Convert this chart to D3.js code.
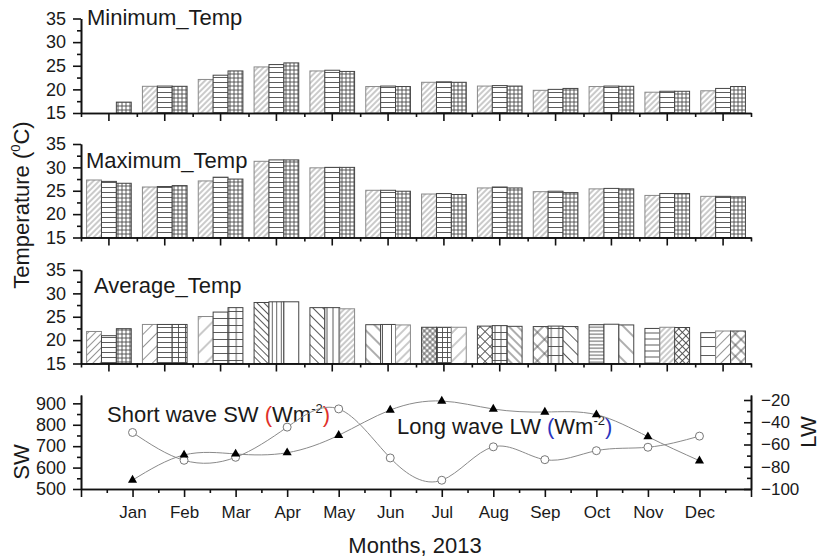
<!DOCTYPE html>
<html>
<head>
<meta charset="utf-8">
<script src="https://cdn.jsdelivr.net/npm/d3@7"></script>
<style>
  body { margin: 0; background: #fff; }
  svg text { font-family: "Liberation Sans", Arial, sans-serif; fill: #1a1a1a; }
</style>
</head>
<body>
<script>
// ---- data ----
var months = ["Jan", "Feb", "Mar", "Apr", "May", "Jun", "Jul", "Aug", "Sep", "Oct", "Nov", "Dec"];

var minTempA = [null, 20.65, 22.1, 24.75, 23.9, 20.6, 21.5, 20.7, 19.8, 20.6, 19.4, 19.7];
var minTempB = [null, 20.7, 23.0, 25.25, 24.05, 20.7, 21.6, 20.8, 20.0, 20.7, 19.6, 20.2];
var minTempC = [17.3, 20.65, 23.9, 25.6, 23.8, 20.6, 21.5, 20.7, 20.2, 20.65, 19.6, 20.6];

var maxTempA = [27.3, 25.8, 27.1, 31.3, 29.9, 25.1, 24.3, 25.6, 24.8, 25.4, 24.0, 23.8];
var maxTempB = [27.0, 25.9, 27.9, 31.6, 30.0, 25.1, 24.4, 25.8, 24.9, 25.5, 24.4, 23.8];
var maxTempC = [26.6, 26.1, 27.5, 31.6, 30.0, 24.9, 24.2, 25.6, 24.6, 25.4, 24.4, 23.7];

var avgTempA = [21.85, 23.35, 25.05, 28.05, 26.95, 23.3, 22.75, 23.0, 22.9, 23.3, 22.5, 21.6];
var avgTempB = [20.95, 23.35, 26.0, 28.2, 26.95, 23.35, 22.75, 23.1, 23.0, 23.4, 22.75, 21.95];
var avgTempC = [22.45, 23.35, 26.95, 28.2, 26.7, 23.25, 22.75, 22.95, 22.9, 23.25, 22.7, 21.95];

var panelTitles = ["Minimum_Temp", "Maximum_Temp", "Average_Temp"];
var tempTicks = [15, 20, 25, 30, 35];
var tempMinorTicks = [17.5, 22.5, 27.5, 32.5];

var swValues = [764, 634, 648, 789, 874, 645, 541, 697, 637, 679, 695, 747];
var lwValues = [-92, -69.4, -68.5, -67.4, -51.7, -29, -20.9, -28.1, -30.8, -33.2, -53, -74.6];
var swTicks = [500, 600, 700, 800, 900];
var swMinorTicks = [550, 650, 750, 850];
var lwTicks = [-100, -80, -60, -40, -20];
var lwMinorTicks = [-90, -70, -50, -30];

// ---- hatch styles (per bar) ----
var hatchMinMax = [["fwd", 4], ["hor", 5], ["grid", 4, 4]];
var hatchAvg = [
    [["fwd", 5], ["hor", 5], ["grid", 4, 4]],
    [["fwd", 9], ["hor", 5], ["grid", 5, 7]],
    [["fwd", 12], ["hor", 7], ["grid", 7, 7.5]],
    [["back", 5], ["vert", 4.5], ["none"]],
    [["back", 7], ["vert", 6], ["fwd", 4]],
    [["back", 10], ["vert", 9], ["fwd", 6]],
    [["cross", 4], ["grid", 5, 5], ["fwd", 10]],
    [["cross", 7], ["grid", 7, 6], ["back", 6]],
    [["cross", 10], ["grid", 9, 7.5], ["back", 9]],
    [["hor", 3.5], ["none"], ["back", 12]],
    [["hor", 6], ["fwd", 4], ["cross", 5]],
    [["hor", 9], ["fwd", 7], ["cross", 8]]
];

// svg params
var svgWidth = 820;
var svgHeight = 559;
var plotLeft = 81;
var plotRight = 751;

var svg = d3.select("body").append("svg")
    .attr("width", svgWidth)
    .attr("height", svgHeight);
var defs = svg.append("defs");

function patternId(spec) {
    var id = "p_" + spec.join("_").replace(/\./g, "d");
    if (!defs.select("#" + id).empty()) return id;
    var kind = spec[0], s = spec[1] || 10, s2 = spec[2] || s;
    var col = kind === "fwd" ? "#8a8a8a" : "#4a4a4a";
    var w = kind === "hor" ? 10 : (kind === "grid" ? s2 : s);
    var h = kind === "vert" ? 10 : s;
    var p = defs.append("pattern")
        .attr("id", id)
        .attr("patternUnits", "userSpaceOnUse")
        .attr("width", w)
        .attr("height", h);
    if (kind === "fwd" || kind === "cross") p.attr("patternTransform", "rotate(45)");
    if (kind === "back") p.attr("patternTransform", "rotate(-45)");
    p.append("rect").attr("width", w).attr("height", h).attr("fill", "#fff");
    if (kind === "hor" || kind === "grid" || kind === "cross") {
        p.append("line").attr("x1", 0).attr("x2", w).attr("y1", h / 2).attr("y2", h / 2)
            .attr("stroke", col).attr("stroke-width", 0.9);
    }
    if (kind === "vert" || kind === "grid" || kind === "cross" || kind === "fwd" || kind === "back") {
        p.append("line").attr("x1", w / 2).attr("x2", w / 2).attr("y1", 0).attr("y2", h)
            .attr("stroke", col).attr("stroke-width", 0.9);
    }
    return id;
}

function styleAxis(g, size) {
    g.attr("font-family", "Liberation Sans, Arial, sans-serif")
        .attr("font-size", size || 18)
        .style("color", "#111");
    g.selectAll("path, line").attr("stroke-width", 1.6);
    g.selectAll("text").attr("fill", "#1a1a1a");
}

// ---- three bar panels ----
var xBand = d3.scaleBand()
    .domain(months)
    .range([plotLeft, plotRight])
    .paddingInner(0.2)
    .paddingOuter(0.1);
var xSub = d3.scaleBand()
    .domain([0, 1, 2])
    .range([0, xBand.bandwidth()]);
var xEdge = d3.scaleLinear().domain([0, 12]).range([plotLeft, plotRight]);

var panels = [
    { title: panelTitles[0], series: [minTempA, minTempB, minTempC], bottom: 113, top: 18.5, tx: 87, ty: 25 },
    { title: panelTitles[1], series: [maxTempA, maxTempB, maxTempC], bottom: 237.5, top: 144, tx: 86, ty: 167.5 },
    { title: panelTitles[2], series: [avgTempA, avgTempB, avgTempC], bottom: 363.5, top: 270, tx: 94, ty: 292.5 }
];

panels.forEach(function(panel, pi) {
    var y = d3.scaleLinear().domain([15, 35]).range([panel.bottom, panel.top]);
    var g = svg.append("g");

    var bars = [];
    months.forEach(function(m, i) {
        panel.series.forEach(function(vals, k) {
            if (vals[i] == null) return;
            var spec = pi < 2 ? hatchMinMax[k] : hatchAvg[i][k];
            bars.push({ month: m, k: k, value: vals[i], spec: spec });
        });
    });

    g.selectAll("rect")
        .data(bars)
        .enter()
        .append("rect")
        .attr("x", d => xBand(d.month) + xSub(d.k))
        .attr("y", d => y(d.value))
        .attr("width", xSub.bandwidth())
        .attr("height", d => y(15) - y(d.value))
        .attr("fill", d => "url(#" + patternId(d.spec) + ")")
        .attr("stroke", d => d.spec[0] === "fwd" ? "#8a8a8a" : "#444")
        .attr("stroke-width", 1);

    // axes
    var ax = g.append("g").attr("transform", `translate(${plotLeft},0)`)
        .call(d3.axisLeft(y).tickValues(tempMinorTicks).tickSize(4).tickSizeOuter(0).tickFormat(""));
    styleAxis(ax);
    ax = g.append("g").attr("transform", `translate(${plotLeft},0)`)
        .call(d3.axisLeft(y).tickValues(tempTicks).tickSize(8).tickPadding(7).tickSizeOuter(0));
    styleAxis(ax, 18);

    ax = g.append("g").attr("transform", `translate(0,${panel.bottom})`)
        .call(d3.axisBottom(xEdge).ticks(12).tickSize(4).tickSizeOuter(0).tickFormat(""));
    styleAxis(ax);
    ax = g.append("g").attr("transform", `translate(0,${panel.bottom})`)
        .call(d3.axisBottom(xBand).tickSize(8).tickSizeOuter(0).tickFormat(""));
    styleAxis(ax);

    g.append("text")
        .attr("x", panel.tx)
        .attr("y", panel.ty)
        .attr("font-size", 22)
        .text(panel.title);
});

// Temperature title
var tt = svg.append("text")
    .attr("transform", "translate(29,205) rotate(-90)")
    .attr("text-anchor", "middle")
    .attr("font-size", 22);
tt.append("tspan").text("Temperature (");
tt.append("tspan").attr("font-size", 13).attr("dy", -9).text("0");
tt.append("tspan").attr("dy", 9).text("C)");

// ---- radiation panel ----
var xLine = d3.scaleLinear().domain([0, 13]).range([plotLeft, plotRight]);
var ySW = d3.scaleLinear().domain([500, 939]).range([489, 395]);
var yLW = d3.scaleLinear().domain([-100, -15.5]).range([489, 395]);
var rg = svg.append("g");

var ax = rg.append("g").attr("transform", "translate(0,489)")
    .call(d3.axisBottom(xLine).tickValues(d3.range(0.5, 13, 1)).tickSize(4).tickSizeOuter(0).tickFormat(""));
styleAxis(ax);
ax = rg.append("g").attr("transform", "translate(0,489)")
    .call(d3.axisBottom(xLine).tickValues(d3.range(0, 14)).tickSize(8).tickPadding(9).tickSizeOuter(0)
        .tickFormat(d => (d >= 1 && d <= 12) ? months[d - 1] : ""));
styleAxis(ax, 17);

ax = rg.append("g").attr("transform", `translate(${plotLeft},0)`)
    .call(d3.axisLeft(ySW).tickValues(swMinorTicks).tickSize(4).tickSizeOuter(0).tickFormat(""));
styleAxis(ax);
ax = rg.append("g").attr("transform", `translate(${plotLeft},0)`)
    .call(d3.axisLeft(ySW).tickValues(swTicks).tickSize(8).tickPadding(7).tickSizeOuter(0));
styleAxis(ax, 18);

ax = rg.append("g").attr("transform", `translate(${plotRight},0)`)
    .call(d3.axisRight(yLW).tickValues(lwMinorTicks).tickSize(-4).tickSizeOuter(0).tickFormat(""));
styleAxis(ax);
ax = rg.append("g").attr("transform", `translate(${plotRight},0)`)
    .call(d3.axisRight(yLW).tickValues(lwTicks).tickSize(-7).tickPadding(10).tickSizeOuter(0));
styleAxis(ax, 17);

// annotations
var sw = rg.append("text").attr("x", 107).attr("y", 421.5).attr("font-size", 22);
sw.append("tspan").text("Short wave SW ");
sw.append("tspan").style("fill", "#e0302a").text("(");
sw.append("tspan").text("Wm");
sw.append("tspan").attr("font-size", 13).attr("dy", -9).text("-2");
sw.append("tspan").attr("dy", 9).style("fill", "#e0302a").text(")");

var lw = rg.append("text").attr("x", 397).attr("y", 433.5).attr("font-size", 22);
lw.append("tspan").text("Long wave LW ");
lw.append("tspan").style("fill", "#2a35c0").text("(");
lw.append("tspan").text("Wm");
lw.append("tspan").attr("font-size", 13).attr("dy", -9).text("-2");
lw.append("tspan").attr("dy", 9).style("fill", "#2a35c0").text(")");

// curves
var idx = d3.range(12);
rg.append("path")
    .datum(idx)
    .attr("fill", "none")
    .attr("stroke", "#8a8a8a")
    .attr("stroke-width", 1)
    .attr("d", d3.line().curve(d3.curveNatural).x(i => xLine(i + 1)).y(i => ySW(swValues[i])));
rg.append("path")
    .datum(idx)
    .attr("fill", "none")
    .attr("stroke", "#8a8a8a")
    .attr("stroke-width", 1)
    .attr("d", d3.line().curve(d3.curveNatural).x(i => xLine(i + 1)).y(i => yLW(lwValues[i])));

rg.selectAll("circle")
    .data(idx)
    .enter()
    .append("circle")
    .attr("cx", i => xLine(i + 1))
    .attr("cy", i => ySW(swValues[i]))
    .attr("r", 4)
    .attr("fill", "#fff")
    .attr("stroke", "#777")
    .attr("stroke-width", 1);

rg.selectAll("path.tri")
    .data(idx)
    .enter()
    .append("path")
    .attr("class", "tri")
    .attr("transform", i => `translate(${xLine(i + 1)},${yLW(lwValues[i])})`)
    .attr("d", d3.symbol().type(d3.symbolTriangle).size(36))
    .attr("fill", "#000");

// axis titles
rg.append("text")
    .attr("transform", "translate(29,462) rotate(-90)")
    .attr("text-anchor", "middle")
    .attr("font-size", 22)
    .text("SW");
rg.append("text")
    .attr("transform", "translate(816,432) rotate(-90)")
    .attr("text-anchor", "middle")
    .attr("font-size", 22)
    .text("LW");
rg.append("text")
    .attr("x", 415)
    .attr("y", 553)
    .attr("text-anchor", "middle")
    .attr("font-size", 22)
    .text("Months, 2013");
</script>
</body>
</html>
